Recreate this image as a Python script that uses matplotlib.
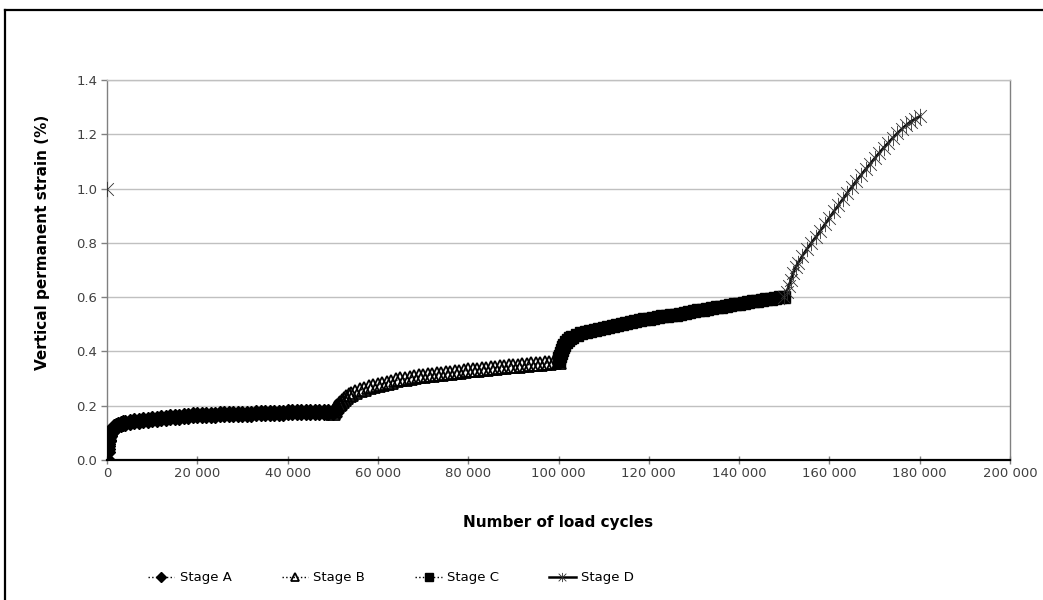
import matplotlib
matplotlib.use("Agg")
import numpy as np
import matplotlib.pyplot as plt
from matplotlib.path import Path
from matplotlib.lines import Line2D

# ---- data -------------------------------------------------------------
cycles_a = [0, 10, 30, 60, 100, 150, 200, 300, 400, 500, 650, 800, 1000,
            1250, 1500, 1750, 2000, 2500, 3000, 3500, 4000, 5000, 6000,
            7000, 8000, 9000, 10000, 11000, 12000, 13000, 14000, 15000,
            16000, 17000, 18000, 19000, 20000, 21000, 22000, 23000, 24000,
            25000, 26000, 27000, 28000, 29000, 30000, 31000, 32000, 33000,
            34000, 35000, 36000, 37000, 38000, 39000, 40000, 41000, 42000,
            43000, 44000, 45000, 46000, 47000, 48000, 49000, 50000]
strain_a = [0.000, 0.030, 0.040, 0.050, 0.060, 0.070, 0.075, 0.085, 0.090,
            0.095, 0.100, 0.105, 0.110, 0.115, 0.120, 0.123, 0.126, 0.130,
            0.133, 0.135, 0.137, 0.139, 0.142, 0.144, 0.147, 0.148, 0.151,
            0.152, 0.154, 0.155, 0.157, 0.158, 0.160, 0.161, 0.162, 0.164,
            0.165, 0.165, 0.166, 0.167, 0.167, 0.168, 0.168, 0.169, 0.169,
            0.170, 0.170, 0.171, 0.171, 0.172, 0.172, 0.173, 0.174, 0.174,
            0.175, 0.175, 0.176, 0.176, 0.176, 0.177, 0.177, 0.177, 0.177,
            0.178, 0.178, 0.178, 0.178]

cycles_b = [50000, 50200, 50400, 50600, 50800, 51000, 51300, 51600, 52000,
            52500, 53000, 53500, 54000, 55000, 56000, 57000, 58000, 59000,
            60000, 61000, 62000, 63000, 64000, 65000, 66000, 67000, 68000,
            69000, 70000, 71000, 72000, 73000, 74000, 75000, 76000, 77000,
            78000, 79000, 80000, 81000, 82000, 83000, 84000, 85000, 86000,
            87000, 88000, 89000, 90000, 91000, 92000, 93000, 94000, 95000,
            96000, 97000, 98000, 99000, 100000]
strain_b = [0.175, 0.180, 0.185, 0.190, 0.195, 0.200, 0.205, 0.210, 0.217,
            0.225, 0.232, 0.238, 0.243, 0.250, 0.257, 0.263, 0.268, 0.273,
            0.277, 0.281, 0.285, 0.289, 0.293, 0.297, 0.300, 0.303, 0.305,
            0.308, 0.310, 0.312, 0.314, 0.316, 0.318, 0.320, 0.322, 0.324,
            0.326, 0.328, 0.330, 0.332, 0.333, 0.335, 0.337, 0.338, 0.340,
            0.342, 0.343, 0.345, 0.346, 0.348, 0.349, 0.351, 0.352, 0.354,
            0.355, 0.357, 0.358, 0.360, 0.361]

cycles_c = [100000, 100200, 100400, 100600, 100800, 101000, 101300, 101600,
            102000, 102500, 103000, 104000, 105000, 106000, 107000, 108000,
            109000, 110000, 111000, 112000, 113000, 114000, 115000, 116000,
            117000, 118000, 119000, 120000, 121000, 122000, 123000, 124000,
            125000, 126000, 127000, 128000, 129000, 130000, 131000, 132000,
            133000, 134000, 135000, 136000, 137000, 138000, 139000, 140000,
            141000, 142000, 143000, 144000, 145000, 146000, 147000, 148000,
            149000, 150000]
strain_c = [0.365, 0.375, 0.385, 0.395, 0.405, 0.415, 0.425, 0.433, 0.442,
            0.449, 0.455, 0.462, 0.467, 0.472, 0.476, 0.480, 0.484, 0.487,
            0.491, 0.494, 0.498, 0.501, 0.505, 0.508, 0.512, 0.516, 0.519,
            0.521, 0.524, 0.526, 0.529, 0.531, 0.534, 0.536, 0.539, 0.542,
            0.545, 0.548, 0.551, 0.553, 0.556, 0.559, 0.562, 0.565, 0.568,
            0.571, 0.574, 0.576, 0.579, 0.582, 0.585, 0.587, 0.590, 0.592,
            0.595, 0.597, 0.600, 0.602]

# first stage-D reading (cycle 0) is logged on its own, hence the gap
cycles_d = [0, None, 150000, 150500, 151000, 151500, 152000, 152500, 153000,
            154000, 155000, 156000, 157000, 158000, 159000, 160000, 161000,
            162000, 163000, 164000, 165000, 166000, 167000, 168000, 169000,
            170000, 171000, 172000, 173000, 174000, 175000, 176000, 177000,
            178000, 179000, 180000]
strain_d = [1.000, None, 0.600, 0.620, 0.640, 0.665, 0.690, 0.710, 0.725,
            0.752, 0.777, 0.800, 0.822, 0.845, 0.868, 0.893, 0.916, 0.939,
            0.962, 0.985, 1.007, 1.029, 1.050, 1.071, 1.091, 1.111, 1.131,
            1.150, 1.168, 1.186, 1.203, 1.219, 1.234, 1.247, 1.257, 1.266]

series_names = ["Stage A", "Stage B", "Stage C", "Stage D"]
x_ticks = [0, 20000, 40000, 60000, 80000, 100000, 120000, 140000, 160000,
           180000, 200000]
x_tick_labels = ["0", "20 000", "40 000", "60 000", "80 000", "100 000",
                 "120 000", "140 000", "160 000", "180 000", "200 000"]
y_ticks = [0.0, 0.2, 0.4, 0.6, 0.8, 1.0, 1.2, 1.4]
y_tick_labels = ["0.0", "0.2", "0.4", "0.6", "0.8", "1.0", "1.2", "1.4"]

# ---- figure -----------------------------------------------------------
plt.rcParams["font.family"] = ["DejaVu Sans"]
W, H = 1043, 600
fig = plt.figure(figsize=(W / 100, H / 100), dpi=100)
fig.patch.set_facecolor("white")

ax = fig.add_axes([107 / W, 140 / H, 903 / W, 380 / H])

# asterisk marker: an X crossed by a vertical stroke
star = Path([(-1, -1), (1, 1), (-1, 1), (1, -1), (0, -1.2), (0, 1.2)],
            [Path.MOVETO, Path.LINETO, Path.MOVETO, Path.LINETO,
             Path.MOVETO, Path.LINETO])

def as_float(seq):
    return np.array([np.nan if v is None else v for v in seq], dtype=float)

ax.plot(cycles_a, strain_a, linestyle=":", color="black", linewidth=1,
        marker="D", markersize=8, markerfacecolor="black",
        markeredgecolor="black", label=series_names[0], zorder=3)
ax.plot(cycles_b, strain_b, linestyle=":", color="black", linewidth=1,
        marker="^", markersize=10, markerfacecolor="none",
        markeredgecolor="black", markeredgewidth=1.3,
        label=series_names[1], zorder=3)
ax.plot(cycles_c, strain_c, linestyle=":", color="black", linewidth=1,
        marker="s", markersize=9, markerfacecolor="black",
        markeredgecolor="black", label=series_names[2], zorder=3)
ax.plot(as_float(cycles_d), as_float(strain_d), linestyle="-", color="black",
        linewidth=1.8, marker=star, markersize=11, markeredgewidth=0.6,
        markeredgecolor="#303030", label=series_names[3], zorder=4)

ax.set_xlim(0, 200000)
ax.set_ylim(0, 1.4)
ax.set_xticks(x_ticks)
ax.set_xticklabels(x_tick_labels)
ax.set_yticks(y_ticks)
ax.set_yticklabels(y_tick_labels)

ax.yaxis.grid(True, color="#c0c0c0", linewidth=1)
ax.set_axisbelow(True)

for side in ("left", "right"):
    ax.spines[side].set_color("#808080")
    ax.spines[side].set_linewidth(1)
ax.spines["top"].set_color("#c0c0c0")
ax.spines["top"].set_linewidth(1)
ax.spines["bottom"].set_color("black")
ax.spines["bottom"].set_linewidth(1.6)

ax.tick_params(axis="x", direction="inout", length=6, width=1,
               color="#808080", pad=2, labelsize=9.5, labelcolor="#404040")
ax.tick_params(axis="y", direction="out", length=4, width=1,
               color="#808080", pad=3, labelsize=9.5, labelcolor="#404040")

ax.set_xlabel("Number of load cycles", fontsize=11, fontweight="bold")
ax.xaxis.set_label_coords(0.5, -(515 - 460) / 380)
ax.set_ylabel("Vertical permanent strain (%)", fontsize=11,
              fontweight="bold")
ax.yaxis.set_label_coords(-(107 - 50) / 903, (460 - 242) / 380)

leg = fig.legend(loc="center left", bbox_to_anchor=(148 / W, 22 / H),
                 ncol=4, frameon=False, fontsize=9.5, handlelength=2.0,
                 handletextpad=0.4, columnspacing=3.8, borderpad=0,
                 borderaxespad=0, markerscale=0.6)

# outer chart frame
fig.add_artist(Line2D([5 / W, 5 / W], [0, 1 - 10 / H],
                      transform=fig.transFigure, color="black", linewidth=1.6))
fig.add_artist(Line2D([5 / W, 1], [1 - 10 / H, 1 - 10 / H],
                      transform=fig.transFigure, color="black", linewidth=1.6))

fig.savefig("out.png", dpi=100)
